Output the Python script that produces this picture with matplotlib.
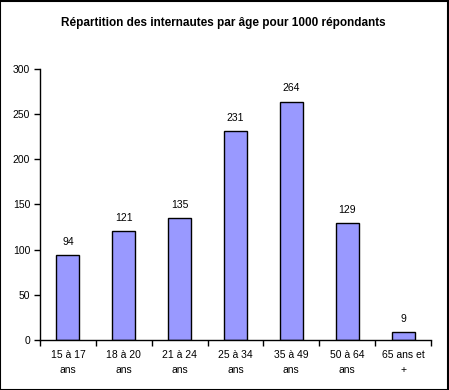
import numpy as np
from matplotlib import pyplot as plt
from matplotlib.patches import Rectangle

plt.rcParams['font.family'] = ['Liberation Sans', 'DejaVu Sans']

# Data
categories = ['15 à 17\nans', '18 à 20\nans', '21 à 24\nans', '25 à 34\nans',
              '35 à 49\nans', '50 à 64\nans', '65 ans et\n+']
values = [94, 121, 135, 231, 264, 129, 9]
title = 'Répartition des internautes par âge pour 1000 répondants'

fig = plt.figure(figsize=(4.49, 3.90), dpi=100)
ax = fig.add_axes([40 / 449, 1 - 340 / 390, 391 / 449, 271 / 390])

x = np.arange(len(values))
ax.bar(x, values, width=0.41, color='#9999FF', edgecolor='black', linewidth=1.0)

for xi, v in zip(x, values):
    ax.text(xi, v + 9, str(v), ha='center', va='bottom', fontsize=7.5)

ax.set_xlim(-0.5, len(values) - 0.5)
ax.set_ylim(0, 300)
ax.set_yticks(range(0, 301, 50))
ax.tick_params(axis='y', labelsize=7.5, length=4, width=1, direction='out', pad=3)

# category labels centred, ticks at boundaries
ax.set_xticks(x)
ax.set_xticklabels(categories, fontsize=7.5, linespacing=1.7)
ax.tick_params(axis='x', length=0, pad=7)
ax.set_xticks(np.arange(-0.5, len(values)), minor=True)
ax.tick_params(axis='x', which='minor', length=4, width=1, direction='out')

for s in ['top', 'right']:
    ax.spines[s].set_visible(False)
for s in ['left', 'bottom']:
    ax.spines[s].set_linewidth(1)

fig.text(0.497, 1 - 23 / 390, title, ha='center', va='center',
         fontsize=8.5, fontweight='bold')

# outer border
fig.patches.append(Rectangle((0.001, 0.001), 0.997, 0.997, transform=fig.transFigure,
                             fill=False, edgecolor='black', linewidth=1.5))

fig.savefig('out.png', dpi=100)
